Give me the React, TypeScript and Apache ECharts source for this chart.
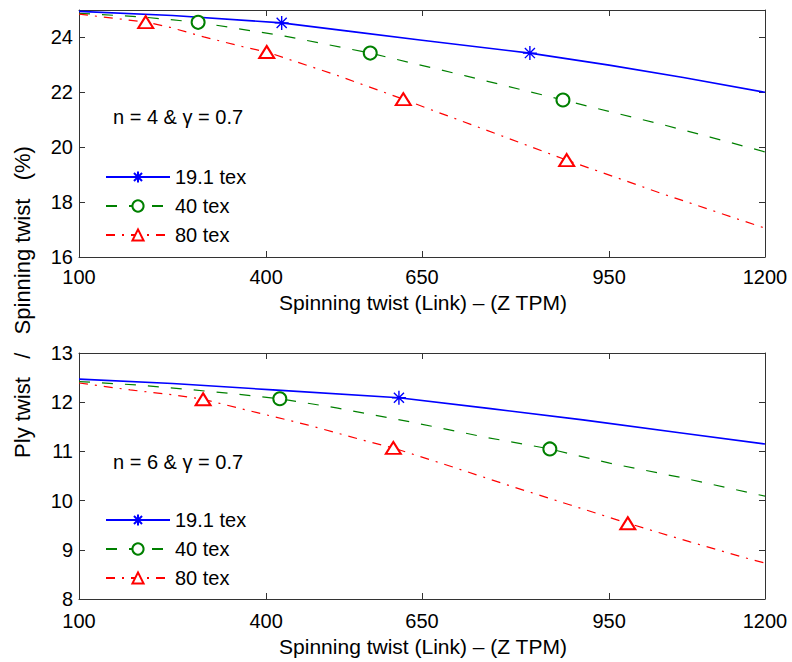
import React, { useEffect, useRef } from "react";
import * as echarts from "echarts";

// ---------- data ----------
const xTicks = [100, 400, 650, 950, 1200];
const seriesNames = ["19.1 tex", "40 tex", "80 tex"];

// Top panel (n = 4 & γ = 0.7)
const topBlue: [number, number][] = [
  [100, 24.95], [250, 24.8], [425, 24.53], [535, 24.22], [650, 23.9],
  [823, 23.43], [950, 22.99], [1069, 22.54], [1200, 22.0],
];
const topBlueMarks = [425, 823];
const topGreen: [number, number][] = [
  [100, 24.88], [200, 24.75], [291, 24.55], [430, 24.05], [567, 23.43],
  [720, 22.6], [876, 21.72], [1040, 20.8], [1112, 20.37], [1200, 19.83],
];
const topGreenMarks = [291, 567, 876];
const topRed: [number, number][] = [
  [100, 24.85], [207, 24.56], [246, 24.37], [300, 24.02], [363, 23.66],
  [401, 23.47], [510, 22.65], [620, 21.75], [658, 21.42], [750, 20.65],
  [882, 19.53], [1036, 18.3], [1200, 17.05],
];
const topRedMarks = [207, 401, 620, 882];

// Bottom panel (n = 6 & γ = 0.7)
const botBlue: [number, number][] = [
  [100, 12.47], [250, 12.38], [411, 12.25], [613, 12.09], [760, 11.87],
  [908, 11.64], [1069, 11.37], [1200, 11.15],
];
const botBlueMarks = [613];
const botGreen: [number, number][] = [
  [100, 12.42], [193, 12.35], [283, 12.25], [342, 12.18], [422, 12.07],
  [515, 11.88], [631, 11.6], [751, 11.29], [855, 11.05], [951, 10.76],
  [1069, 10.46], [1200, 10.09],
];
const botGreenMarks = [422, 855];
const botRed: [number, number][] = [
  [100, 12.39], [182, 12.25], [251, 12.15], [299, 12.06], [369, 11.84],
  [466, 11.54], [555, 11.23], [604, 11.07], [700, 10.68], [796, 10.28],
  [888, 9.91], [980, 9.54], [1080, 9.16], [1176, 8.81], [1200, 8.73],
];
const botRedMarks = [299, 604, 980];

const topY = { min: 16, max: 25, interval: 2 };
const botY = { min: 8, max: 13, interval: 1 };

// ---------- styles ----------
const FONT = "'Liberation Sans', Arial, Helvetica, sans-serif";
const AXIS_COLOR = "#333333";
const BLUE = "#0000ff";
const GREEN = "#008000";
const RED = "#ff0000";
const STAR =
  "path://M0,-1L0,1M-1,0L1,0M-0.72,-0.72L0.72,0.72M-0.72,0.72L0.72,-0.72";

function mark(points: [number, number][], marks: number[]) {
  return points.map(([x, y]) =>
    marks.indexOf(x) >= 0 ? { value: [x, y] } : { value: [x, y], symbol: "none" }
  );
}

function xAxes(gridIndex: number, margin: number) {
  const common = {
    type: "value",
    gridIndex,
    min: 100,
    max: 1200,
    splitLine: { show: false },
    axisLine: { show: true, onZero: false, lineStyle: { color: AXIS_COLOR, width: 1 } },
    axisTick: { show: true, inside: true, length: 6, customValues: xTicks, lineStyle: { color: AXIS_COLOR } },
  };
  return [
    {
      ...common,
      position: "bottom",
      axisLabel: {
        customValues: xTicks,
        color: "#000",
        fontSize: 20,
        fontFamily: FONT,
        margin,
        formatter: (v: number) => String(v),
      },
    },
    { ...common, position: "top", axisLabel: { show: false } },
  ];
}

function yAxes(gridIndex: number, r: { min: number; max: number; interval: number }, hideMax: boolean) {
  const common = {
    type: "value",
    gridIndex,
    min: r.min,
    max: r.max,
    interval: r.interval,
    splitLine: { show: false },
    axisLine: { show: true, onZero: false, lineStyle: { color: AXIS_COLOR, width: 1 } },
    axisTick: { show: true, inside: true, length: 6, lineStyle: { color: AXIS_COLOR } },
  };
  return [
    {
      ...common,
      position: "left",
      axisLabel: { color: "#000", fontSize: 20, fontFamily: FONT, margin: 6, showMaxLabel: !hideMax },
    },
    { ...common, position: "right", axisLabel: { show: false } },
  ];
}

function panelSeries(
  xi: number,
  yi: number,
  blue: [number, number][], blueM: number[],
  green: [number, number][], greenM: number[],
  red: [number, number][], redM: number[]
) {
  return [
    {
      type: "line",
      name: seriesNames[0],
      xAxisIndex: xi,
      yAxisIndex: yi,
      symbol: STAR,
      symbolSize: 14,
      showSymbol: true,
      lineStyle: { color: BLUE, width: 1.6, type: "solid" },
      itemStyle: { color: BLUE, borderColor: BLUE, borderWidth: 1.4 },
      data: mark(blue, blueM),
      z: 3,
    },
    {
      type: "line",
      name: seriesNames[1],
      xAxisIndex: xi,
      yAxisIndex: yi,
      symbol: "emptyCircle",
      symbolSize: 13,
      showSymbol: true,
      lineStyle: { color: GREEN, width: 1.2, type: [11, 12] },
      itemStyle: { color: GREEN, borderColor: GREEN, borderWidth: 1.2 },
      data: mark(green, greenM),
      z: 3,
    },
    {
      type: "line",
      name: seriesNames[2],
      xAxisIndex: xi,
      yAxisIndex: yi,
      symbol: "emptyTriangle",
      symbolSize: [15, 12],
      showSymbol: true,
      lineStyle: { color: RED, width: 1.2, type: [9, 7, 2, 7] },
      itemStyle: { color: RED, borderColor: RED, borderWidth: 1.2 },
      data: mark(red, redM),
      z: 3,
    },
  ];
}

function legend(top: number) {
  return {
    orient: "vertical",
    left: 105,
    top,
    padding: 0,
    itemWidth: 64,
    itemHeight: 14,
    itemGap: 9,
    selectedMode: false,
    textStyle: { color: "#000", fontSize: 20, fontFamily: FONT },
    data: seriesNames,
  };
}

export default function App() {
  const ref = useRef<HTMLDivElement>(null);
  useEffect(() => {
    if (!ref.current) return;
    const chart = echarts.init(ref.current, undefined, { renderer: "svg" });
    const titleStyle = { fill: "#000", fontSize: 21, fontFamily: FONT, verticalAlign: "middle", align: "center" };
    const noteStyle = { fill: "#000", fontSize: 20, fontFamily: FONT, verticalAlign: "middle", align: "left" };
    const option = {
      animation: false,
      backgroundColor: "#ffffff",
      grid: [
        { left: 79, top: 10, width: 686, height: 247 },
        { left: 79, top: 353, width: 686, height: 246 },
      ],
      xAxis: [...xAxes(0, 10), ...xAxes(1, 12)],
      yAxis: [...yAxes(0, topY, true), ...yAxes(1, botY, false)],
      legend: [legend(167), legend(510)],
      series: [
        ...panelSeries(0, 0, topBlue, topBlueMarks, topGreen, topGreenMarks, topRed, topRedMarks),
        ...panelSeries(2, 2, botBlue, botBlueMarks, botGreen, botGreenMarks, botRed, botRedMarks),
      ],
      graphic: [
        { type: "text", x: 113, y: 117, style: { ...noteStyle, text: "n = 4 & \u03b3 = 0.7" } },
        { type: "text", x: 113, y: 462, style: { ...noteStyle, text: "n = 6 & \u03b3 = 0.7" } },
        { type: "text", x: 423, y: 302, style: { ...titleStyle, text: "Spinning twist (Link) \u2013 (Z TPM)" } },
        { type: "text", x: 423, y: 646, style: { ...titleStyle, text: "Spinning twist (Link) \u2013 (Z TPM)" } },
        {
          type: "text",
          x: 22,
          y: 302,
          rotation: Math.PI / 2,
          style: { ...titleStyle, fontSize: 22, text: "Ply twist   /   Spinning twist   (%)" },
        },
      ],
    };
    chart.setOption(option as any);
    return () => chart.dispose();
  }, []);
  return (
    <div
      ref={ref}
      style={{ position: "fixed", left: 0, top: 0, width: 792, height: 662, background: "#fff" }}
    />
  );
}
